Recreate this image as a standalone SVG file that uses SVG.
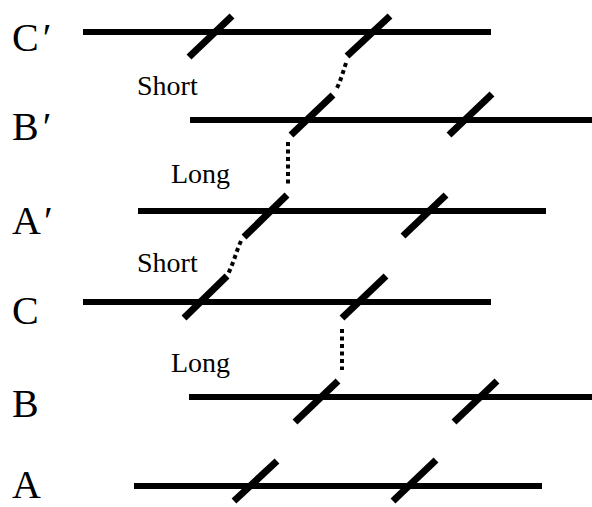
<svg xmlns="http://www.w3.org/2000/svg" width="592" height="507" viewBox="0 0 592 507">
<style>
.bar{stroke:#000;stroke-width:6;fill:none}
.sl{stroke:#000;stroke-width:7;fill:none}
.dot{stroke:#000;stroke-width:4;fill:none;stroke-dasharray:4 3.5}
.lab{font-family:"Liberation Serif","Times New Roman",serif;font-size:40px;fill:#000}
.sm{font-family:"Liberation Serif","Times New Roman",serif;font-size:28px;fill:#000}
</style>
<rect width="592" height="507" fill="#fff"/>
<g id="row-Cp">
<text class="lab" x="12" y="51">C<tspan dx="4">′</tspan></text>
<line class="bar" x1="83" y1="32" x2="491" y2="32"/>
<line class="sl" x1="189" y1="57" x2="232" y2="16"/>
<line class="sl" x1="347" y1="56" x2="390" y2="16"/>
</g>
<g id="row-Bp">
<text class="lab" x="12" y="140">B<tspan dx="4">′</tspan></text>
<line class="bar" x1="190" y1="120" x2="592" y2="120"/>
<line class="sl" x1="291" y1="135" x2="333" y2="95"/>
<line class="sl" x1="449" y1="135" x2="492" y2="94"/>
</g>
<g id="row-Ap">
<text class="lab" x="12" y="234">A<tspan dx="3">′</tspan></text>
<line class="bar" x1="138" y1="211" x2="546" y2="211"/>
<line class="sl" x1="244" y1="237" x2="287" y2="195"/>
<line class="sl" x1="403" y1="236" x2="446" y2="195"/>
</g>
<g id="row-C">
<text class="lab" x="12" y="324">C</text>
<line class="bar" x1="83" y1="302" x2="491" y2="302"/>
<line class="sl" x1="184" y1="318" x2="227" y2="276"/>
<line class="sl" x1="342" y1="318" x2="386" y2="276"/>
</g>
<g id="row-B">
<text class="lab" x="12" y="417">B</text>
<line class="bar" x1="189" y1="397" x2="592" y2="397"/>
<line class="sl" x1="295" y1="422" x2="338" y2="381"/>
<line class="sl" x1="454" y1="422" x2="497" y2="381"/>
</g>
<g id="row-A">
<text class="lab" x="12" y="498">A</text>
<line class="bar" x1="134" y1="486" x2="542" y2="486"/>
<line class="sl" x1="234" y1="501" x2="277" y2="461"/>
<line class="sl" x1="393" y1="501" x2="436" y2="460"/>
</g>
<g id="labels">
<text class="sm" x="137" y="95">Short</text>
<text class="sm" x="171" y="183">Long</text>
<text class="sm" x="137" y="272">Short</text>
<text class="sm" x="171" y="372">Long</text>
</g>
<g id="connectors">
<path class="dot" d="M346,63 C343,72 341,80 336,90"/>
<path class="dot" d="M288,142 L288,187"/>
<path class="dot" d="M241,241 C236,252 234,262 228,274"/>
<path class="dot" d="M342,329 L342,370"/>
</g>
</svg>
